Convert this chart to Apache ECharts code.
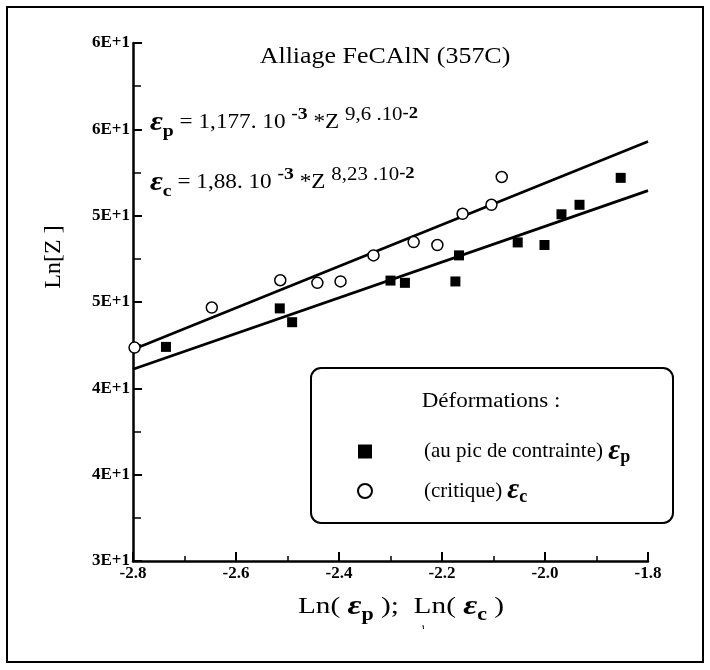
<!DOCTYPE html>
<html>
<head>
<meta charset="utf-8">
<script src="https://cdn.jsdelivr.net/npm/echarts@6/dist/echarts.min.js"></script>
<style>
html,body{margin:0;padding:0;background:#fff;}
#chart{width:710px;height:670px;}
</style>
</head>
<body>
<div id="chart"></div>
<script>
// ---- data ----
var yTickValues = [30, 35, 40, 45, 50, 55, 60];
var yTickLabels = ['3E+1', '4E+1', '4E+1', '5E+1', '5E+1', '6E+1', '6E+1'];
var xTickMin = -2.8, xTickMax = -1.8, xTickStep = 0.2;

// peak strain (filled squares): [Ln(eps_p), Ln(Z)]
var peakX = [-2.736, -2.515, -2.491, -2.300, -2.272, -2.174, -2.167, -2.053, -2.001, -1.968, -1.933, -1.853];
var peakY = [42.40, 44.63, 43.83, 46.24, 46.11, 46.19, 47.70, 48.45, 48.30, 50.08, 50.63, 52.19];

// critical strain (open circles): [Ln(eps_c), Ln(Z)]
var critX = [-2.797, -2.647, -2.514, -2.442, -2.397, -2.333, -2.255, -2.209, -2.160, -2.104, -2.084];
var critY = [42.36, 44.68, 46.26, 46.11, 46.19, 47.70, 48.47, 48.30, 50.11, 50.63, 52.24];

// fitted lines (end points)
var fitCritX = [-2.8, -1.8];
var fitCritY = [42.25, 54.30];
var fitPeakX = [-2.8, -1.8];
var fitPeakY = [41.10, 51.45];

function pairs(xs, ys) { return xs.map(function (x, i) { return [x, ys[i]]; }); }

var SERIF = "'Liberation Serif', 'Times New Roman', serif";
var chart = echarts.init(document.getElementById('chart'));

var eqRich = {
  eps: { fontFamily: SERIF, fontSize: 27, fontWeight: 'bold', fontStyle: 'italic', color: '#000', lineHeight: 34, verticalAlign: 'middle' },
  sub: { fontFamily: SERIF, fontSize: 17, fontWeight: 'bold', color: '#000', lineHeight: 19, verticalAlign: 'bottom' },
  t: { fontFamily: SERIF, fontSize: 20, color: '#000', lineHeight: 34, verticalAlign: 'middle' },
  sup: { fontFamily: SERIF, fontSize: 17, fontWeight: 'bold', color: '#000', lineHeight: 28, verticalAlign: 'top' },
  supt: { fontFamily: SERIF, fontSize: 18, color: '#000', lineHeight: 28, verticalAlign: 'top' },
  sup2: { fontFamily: SERIF, fontSize: 16, fontWeight: 'bold', color: '#000', lineHeight: 19, verticalAlign: 'top' }
};

var legRich = {
  gap: { width: 47 },
  t: { fontFamily: SERIF, fontSize: 21, color: '#000', lineHeight: 30, verticalAlign: 'middle' },
  eps: { fontFamily: SERIF, fontSize: 29, fontWeight: 'bold', fontStyle: 'italic', color: '#000', lineHeight: 30, verticalAlign: 'middle' },
  sub: { fontFamily: SERIF, fontSize: 18, fontWeight: 'bold', color: '#000', lineHeight: 14, verticalAlign: 'bottom' }
};

var option = {
  backgroundColor: '#fff',
  animation: false,
  grid: { left: 133, top: 43, right: 62, bottom: 109, containLabel: false },
  xAxis: {
    type: 'value', min: xTickMin, max: xTickMax, interval: xTickStep,
    axisLine: { show: true, onZero: false, lineStyle: { color: '#000', width: 2.5 } },
    axisTick: { show: true, inside: true, length: 9, lineStyle: { color: '#000', width: 2 } },
    minorTick: { show: true, splitNumber: 2, length: 5, lineStyle: { color: '#000', width: 1.5 } },
    splitLine: { show: false },
    axisLabel: {
      margin: 4, color: '#000', fontFamily: SERIF, fontWeight: 'bold', fontSize: 17,
      formatter: function (v) { return v.toFixed(1); }
    }
  },
  yAxis: {
    type: 'value', min: yTickValues[0], max: yTickValues[yTickValues.length - 1], interval: 5,
    axisLine: { show: true, onZero: false, lineStyle: { color: '#000', width: 2.5 } },
    axisTick: { show: true, inside: true, length: 9, lineStyle: { color: '#000', width: 2 } },
    minorTick: { show: true, splitNumber: 2, length: 8, lineStyle: { color: '#000', width: 1.5 } },
    splitLine: { show: false },
    axisLabel: {
      margin: 3, color: '#000', fontFamily: SERIF, fontWeight: 'bold', fontSize: 17,
      formatter: function (v) {
        var i = yTickValues.indexOf(Math.round(v));
        return i >= 0 ? yTickLabels[i] : '';
      }
    }
  },
  legend: {
    orient: 'vertical', left: 352, top: 432,
    itemWidth: 14, itemHeight: 14, itemGap: 10,
    data: ['peak', 'critique'],
    textStyle: { rich: legRich },
    formatter: function (name) {
      if (name === 'peak') return '{gap|}{t|(au pic de contrainte) }{eps|ε}{sub|p}';
      return '{gap|}{t|(critique) }{eps|ε}{sub|c}';
    }
  },
  series: [
    {
      name: 'fitCrit', type: 'line', data: pairs(fitCritX, fitCritY),
      symbol: 'none', lineStyle: { color: '#000', width: 2.7 }, z: 2, silent: true
    },
    {
      name: 'fitPeak', type: 'line', data: pairs(fitPeakX, fitPeakY),
      symbol: 'none', lineStyle: { color: '#000', width: 2.7 }, z: 2, silent: true
    },
    {
      name: 'peak', type: 'scatter', data: pairs(peakX, peakY),
      symbol: 'rect', symbolSize: 10,
      itemStyle: { color: '#000', opacity: 1 }, z: 3
    },
    {
      name: 'critique', type: 'scatter', data: pairs(critX, critY),
      symbol: 'circle', symbolSize: 11,
      itemStyle: { color: '#fff', borderColor: '#000', borderWidth: 1.5, opacity: 1 }, z: 3
    }
  ],
  graphic: [
    { type: 'rect', shape: { x: 7, y: 7, width: 696, height: 655 }, style: { fill: 'none', stroke: '#000', lineWidth: 2 }, silent: true, z: 0 },
    { type: 'rect', shape: { x: 311, y: 368, width: 362, height: 155, r: 10 }, style: { fill: 'none', stroke: '#000', lineWidth: 2 }, silent: true, z: 1 },
    { type: 'text', x: 491, y: 402, scaleX: 1.15, style: { text: 'Déformations :', font: '20px ' + SERIF, fill: '#000', align: 'center', verticalAlign: 'middle' }, z: 5 },
    { type: 'text', x: 385, y: 57, scaleX: 1.08, style: { text: 'Alliage FeCAlN (357C)', font: '24px ' + SERIF, fill: '#000', align: 'center', verticalAlign: 'middle' }, z: 5 },
    { type: 'text', x: 150, y: 106, scaleX: 1.16, style: { text: '{eps|ε}{sub|p}{t| = 1,177. 10 }{sup|-3}{t| *Z }{supt|9,6 .10}{sup2|-2}', rich: eqRich, align: 'left', verticalAlign: 'top' }, z: 5 },
    { type: 'text', x: 150, y: 166, scaleX: 1.16, style: { text: '{eps|ε}{sub|c}{t| = 1,88. 10 }{sup|-3}{t| *Z }{supt|8,23 .10}{sup2|-2}', rich: eqRich, align: 'left', verticalAlign: 'top' }, z: 5 },
    { type: 'text', x: 54, y: 257, rotation: Math.PI / 2, style: { text: 'Ln[Z ]', font: '24px ' + SERIF, fill: '#000', align: 'center', verticalAlign: 'middle' }, z: 5 },
    { type: 'text', x: 401, y: 607, scaleX: 1.22, style: { text: '{t|Ln( }{eps|ε}{sub|p}{t| );  Ln( }{eps|ε}{sub|c}{t| )}', rich: {
        t: { fontFamily: SERIF, fontSize: 24, color: '#000', lineHeight: 34, verticalAlign: 'middle' },
        eps: { fontFamily: SERIF, fontSize: 28, fontWeight: 'bold', fontStyle: 'italic', color: '#000', lineHeight: 34, verticalAlign: 'middle' },
        sub: { fontFamily: SERIF, fontSize: 18, fontWeight: 'bold', color: '#000', lineHeight: 19, verticalAlign: 'bottom' }
      }, align: 'center', verticalAlign: 'middle' }, z: 5 },
    { type: 'line', shape: { x1: 423, y1: 625, x2: 423.5, y2: 629 }, style: { stroke: '#000', lineWidth: 1 }, silent: true }
  ]
};
chart.setOption(option);
</script>
</body>
</html>
